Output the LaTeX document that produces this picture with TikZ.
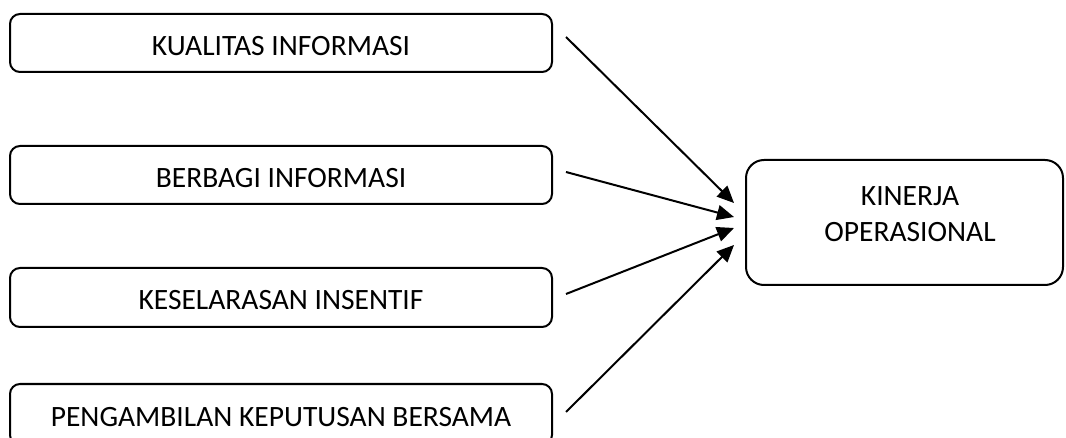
\documentclass[tikz,border=0pt]{standalone}
\usepackage{fontspec}
\setmainfont{Carlito}
\usetikzlibrary{arrows.meta}
\begin{document}
\begin{tikzpicture}[x=1pt,y=-1pt,
  box/.style={draw=black, line width=2pt, rounded corners=10pt, inner sep=0pt, font=\fontsize{29.5}{36}\selectfont, align=center, text height=24.5pt, text depth=0pt},
  arr/.style={line width=2pt, -{Triangle[length=17pt,width=15pt]}}]
\useasboundingbox (0,0) rectangle (1066,438);
\clip (0,0) rectangle (1066,438);
\node[box, minimum width=542pt, minimum height=58pt] (a) at (281,43) {KUALITAS INFORMASI};
\node[box, minimum width=542pt, minimum height=58pt] (b) at (281,175) {BERBAGI INFORMASI};
\node[box, minimum width=542pt, minimum height=59pt] (c) at (281,297.5) {KESELARASAN INSENTIF};
\node[box, minimum width=542pt, minimum height=61pt] (d) at (281,414.5) {PENGAMBILAN KEPUTUSAN BERSAMA};
\node[box, minimum width=317pt, minimum height=125pt, rounded corners=18pt] (k) at (904.5,222.5) {};
\node[font=\fontsize{29.5}{36}\selectfont, align=center, inner sep=0pt] (kt) at (910,214) {KINERJA\\OPERASIONAL};
\coordinate (s1) at (566,37);
\coordinate (s2) at (566,172);
\coordinate (s3) at (566,294);
\coordinate (s4) at (566,412);
\coordinate (t1) at (734,203);
\coordinate (t2) at (734,217);
\coordinate (t3) at (734,228);
\coordinate (t4) at (734,245);
\draw[arr] (s1) -- (t1);
\draw[arr] (s2) -- (t2);
\draw[arr] (s3) -- (t3);
\draw[arr] (s4) -- (t4);
\end{tikzpicture}
\end{document}
